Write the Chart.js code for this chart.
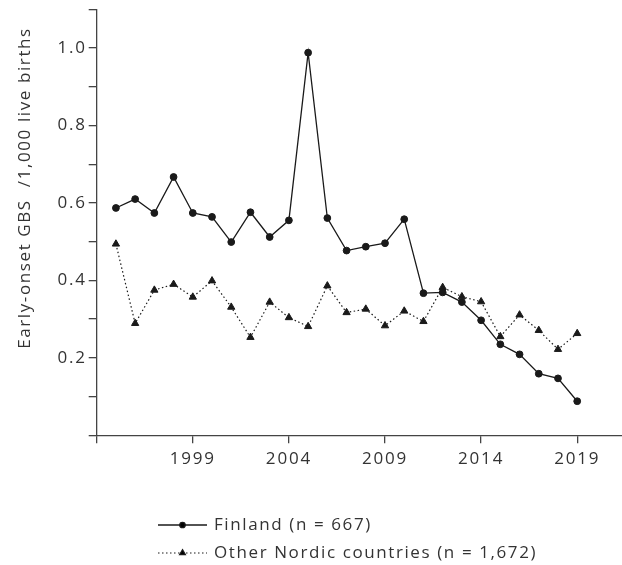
<!DOCTYPE html>
<html>
<head>
<meta charset="utf-8">
<script src="https://cdn.jsdelivr.net/npm/chart.js@4.4.0/dist/chart.umd.min.js"></script>
<style>
  html, body { margin: 0; padding: 0; background: #fff; }
  #wrap { position: relative; width: 622px; height: 565px; }
</style>
</head>
<body>
<div id="wrap"><canvas id="chart"></canvas></div>
<script>
// data
const years = [1995, 1996, 1997, 1998, 1999, 2000, 2001, 2002, 2003, 2004, 2005, 2006, 2007,
  2008, 2009, 2010, 2011, 2012, 2013, 2014, 2015, 2016, 2017, 2018, 2019];
const finland = [0.587, 0.610, 0.574, 0.667, 0.574, 0.564, 0.499, 0.576, 0.512, 0.555, 0.988, 0.561, 0.477,
  0.487, 0.496, 0.558, 0.367, 0.369, 0.344, 0.297, 0.235, 0.209, 0.159, 0.147, 0.088];
const nordic = [0.494, 0.289, 0.375, 0.390, 0.357, 0.399, 0.331, 0.253, 0.344, 0.304, 0.281, 0.386, 0.317,
  0.326, 0.283, 0.321, 0.294, 0.382, 0.358, 0.345, 0.255, 0.311, 0.271, 0.222, 0.263];
const xTicks = [1994, 1999, 2004, 2009, 2014, 2019];
const yLabels = [0.2, 0.4, 0.6, 0.8, 1.0];
const seriesNames = ["Finland (n = 667)", "Other Nordic countries (n = 1,672)"];
const yTitle = "Early-onset GBS  /1,000 live births";

const FONT = "'Open Sans', 'DejaVu Sans', sans-serif";
const INK = "#1a1a1a";
const AXIS = "#444";

// spacing out the letters a bit, like the original typesetting
const spacing = {
  id: "spacing",
  beforeLayout(chart) { chart.ctx.letterSpacing = "1.8px"; },
  beforeDraw(chart) { chart.ctx.letterSpacing = "1.8px"; }
};

// rotated y title + two-row legend under the plot
const extras = {
  id: "extras",
  afterDraw(chart) {
    const ctx = chart.ctx;
    ctx.save();
    ctx.fillStyle = "#333";
    ctx.font = "17px " + FONT;
    ctx.letterSpacing = "1.6px";
    ctx.translate(25, 188);
    ctx.rotate(-Math.PI / 2);
    ctx.textAlign = "center";
    ctx.textBaseline = "middle";
    ctx.fillText(yTitle, 0, 0);
    ctx.restore();

    const rows = [525, 553];
    chart.data.datasets.forEach((ds, i) => {
      const y = rows[i];
      ctx.save();
      ctx.strokeStyle = ds.borderColor;
      ctx.lineWidth = ds.borderWidth;
      ctx.setLineDash(ds.borderDash || []);
      ctx.beginPath();
      ctx.moveTo(158, y);
      ctx.lineTo(207, y);
      ctx.stroke();
      ctx.setLineDash([]);
      Chart.helpers.drawPoint(ctx, {
        pointStyle: ds.pointStyle,
        radius: ds.pointRadius * 0.8,
        borderWidth: 1
      }, 182.5, y);
      ctx.fillStyle = "#333";
      ctx.font = "17px " + FONT;
      ctx.letterSpacing = "1.6px";
      ctx.textAlign = "left";
      ctx.textBaseline = "middle";
      ctx.fillText(ds.label, 214, y);
      ctx.restore();
    });
  }
};

new Chart(document.getElementById("chart"), {
  type: "line",
  data: {
    datasets: [
      {
        label: seriesNames[0],
        data: years.map((y, i) => ({ x: y, y: finland[i] })),
        borderColor: INK,
        backgroundColor: INK,
        borderWidth: 1.3,
        pointStyle: "circle",
        pointRadius: 3.4,
        pointBorderWidth: 1,
        tension: 0
      },
      {
        label: seriesNames[1],
        data: years.map((y, i) => ({ x: y, y: nordic[i] })),
        borderColor: INK,
        backgroundColor: INK,
        borderWidth: 1.2,
        borderDash: [1.5, 2.5],
        pointStyle: "triangle",
        pointRadius: 4.2,
        pointBorderWidth: 1,
        tension: 0
      }
    ]
  },
  options: {
    responsive: true,
    maintainAspectRatio: false,
    animation: false,
    layout: { autoPadding: false, padding: { top: 9.3, right: 0, bottom: 0, left: 0 } },
    plugins: {
      legend: { display: false },
      tooltip: { enabled: false }
    },
    scales: {
      x: {
        type: "linear",
        min: 1994,
        max: 2021.33,
        afterBuildTicks: (s) => { s.ticks = xTicks.map(v => ({ value: v })); },
        afterFit: (s) => { s.height = 129.7; s.paddingLeft = 0; s.paddingRight = 0; },
        border: { display: true, color: AXIS, width: 1.3 },
        grid: { drawOnChartArea: false, drawTicks: true, tickLength: 8, color: AXIS, lineWidth: 1.3 },
        ticks: {
          color: "#333",
          font: { family: FONT, size: 17 },
          padding: 6,
          maxRotation: 0,
          autoSkip: false,
          callback: (v) => (v === xTicks[0] ? "" : String(v))
        }
      },
      y: {
        type: "linear",
        min: 0,
        max: 1.1,
        afterBuildTicks: (s) => {
          const t = [];
          for (let k = 0; k <= 11; k++) t.push({ value: k / 10 });
          s.ticks = t;
        },
        afterFit: (s) => { s.width = 96.7; s.paddingTop = 0; s.paddingBottom = 0; },
        border: { display: true, color: AXIS, width: 1.3 },
        grid: { drawOnChartArea: false, drawTicks: true, tickLength: 8, color: AXIS, lineWidth: 1.3 },
        ticks: {
          color: "#333",
          font: { family: FONT, size: 17 },
          padding: 2,
          autoSkip: false,
          callback: (v) => {
            const hit = yLabels.find(l => Math.abs(l - v) < 1e-6);
            return hit === undefined ? "" : hit.toFixed(1);
          }
        }
      }
    }
  },
  plugins: [spacing, extras]
});
</script>
</body>
</html>
